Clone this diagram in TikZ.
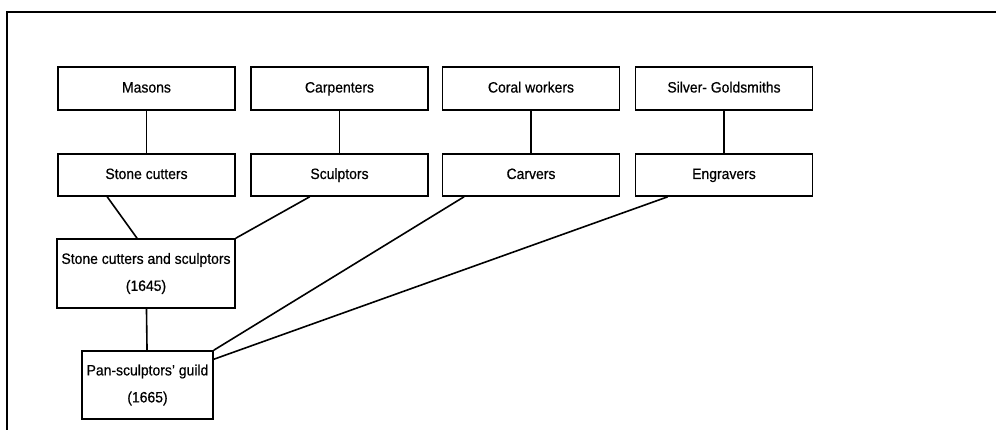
\documentclass[tikz,border=0pt]{standalone}
\usepackage{fontspec}
\setmainfont{Liberation Sans}[FakeStretch=0.93,FakeBold=0.6]
\usetikzlibrary{calc}
\begin{document}
\begin{tikzpicture}[x=1pt,y=-1pt,
  box/.style={draw,line width=1.6pt,rectangle,inner sep=0pt,minimum width=177pt,minimum height=43pt,
    font=\fontsize{15}{27}\selectfont,align=center},
  one/.style={text height=11pt,text depth=3pt},
  link/.style={line width=1.6pt},
  frame/.style={line width=2pt}]
\useasboundingbox (0,0) rectangle (996,430);
\draw[frame] (7,430) -- (7,12) -- (996,12);
% row 1
\node[box,one] (masons) at (146.5,88.5) {Masons};
\node[box,one] (carp) at (339.5,88.5) {Carpenters};
\node[box,one] (coral) at (531,88.5) {Coral workers};
\node[box,one] (silver) at (724,88.5) {Silver- Goldsmiths};
% row 2
\node[box,one,minimum height=42pt] (stone) at (146.5,175) {Stone cutters};
\node[box,one,minimum height=42pt] (sculp) at (339.5,175) {Sculptors};
\node[box,one,minimum height=42pt] (carv) at (531,175) {Carvers};
\node[box,one,minimum height=42pt] (engr) at (724,175) {Engravers};
% merged
\node[box,minimum width=178pt,minimum height=69pt] (scs) at (146,273.5) {Stone cutters and sculptors\\(1645)};
\node[box,minimum width=131pt,minimum height=68pt] (pan) at (147.5,385) {Pan-sculptors' guild\\(1665)};
% connectors
\draw[link] (masons) -- (stone);
\draw[link] (carp) -- (sculp);
\draw[link] (coral) -- (carv);
\draw[link] (silver) -- (engr);
\draw[link] ($(stone.south west)!0.28!(stone.south east)$) -- ($(scs.north west)!0.45!(scs.north east)$);
\draw[link] ($(sculp.south west)!0.333!(sculp.south east)$) -- (scs.north east);
\draw[link] (scs) -- (pan);
\draw[link] ($(carv.south west)!0.125!(carv.south east)$) -- (pan.north east);
\draw[link] ($(engr.south west)!0.185!(engr.south east)$) -- ($(pan.north east)!0.13!(pan.south east)$);
\end{tikzpicture}
\end{document}
